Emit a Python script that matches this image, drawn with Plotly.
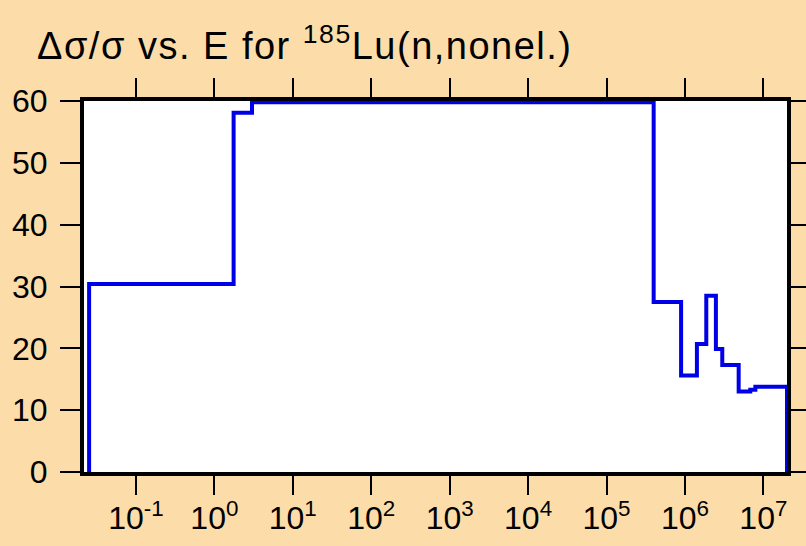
import plotly.graph_objects as go

# energy (eV) where each step starts, and the value of that step
nang_luong = [0.0253, 0.0253, 1.76, 3.02, 3.99e5, 8.93e5, 1.42e6, 1.87e6,
              2.48e6, 2.99e6, 4.84e6, 6.8e6, 7.9e6, 2.0e7]
sai_so = [0, 30.4, 58.1, 59.8, 27.5, 15.6, 20.7, 28.5,
          19.9, 17.3, 13.0, 13.3, 13.8, 0]

x_mu = [-1, 0, 1, 2, 3, 4, 5, 6, 7]
x_nhan = ["10<sup>%d</sup>" % k for k in x_mu]
y_vach = [0, 10, 20, 30, 40, 50, 60]

nen = "#FCDDAA"

fig = go.Figure()
fig.add_trace(go.Scatter(
    x=nang_luong, y=sai_so,
    mode="lines", line_shape="hv",
    line=dict(color="#0000E6", width=4),
    showlegend=False
))

fig.update_layout(
    width=806, height=546,
    margin=dict(l=84, r=19, t=101, b=74),
    paper_bgcolor=nen, plot_bgcolor="white",
    font=dict(family="Liberation Sans, Arial, sans-serif", size=32, color="black"),
    title=dict(
        text="<span style='letter-spacing:1.5px'>Δσ/σ vs. E for <sup>185</sup>Lu(n,nonel.)</span>",
        x=37 / 806, xref="container", xanchor="left",
        y=1 - 46 / 546, yref="container", yanchor="middle",
        font=dict(size=38, color="black")
    )
)

fig.update_xaxes(
    type="log", range=[-1.662, 7.301],
    tickvals=[10.0 ** k for k in x_mu], ticktext=x_nhan,
    showgrid=False, zeroline=False, automargin=False,
    showline=True, linecolor="black", linewidth=4, mirror="ticks",
    ticks="outside", ticklen=19, tickwidth=2, tickcolor="black",
    ticklabelstandoff=-4
)
fig.update_yaxes(
    range=[0, 60], tickvals=y_vach,
    showgrid=False, zeroline=False, automargin=False,
    showline=True, linecolor="black", linewidth=4, mirror="ticks",
    ticks="outside", ticklen=20, tickwidth=2, tickcolor="black",
    ticklabelstandoff=6
)

# bo le mac dinh 8px cua trang
fig.write_html("out.html", config={"displayModeBar": False},
               post_script="document.body.style.margin='0';")
